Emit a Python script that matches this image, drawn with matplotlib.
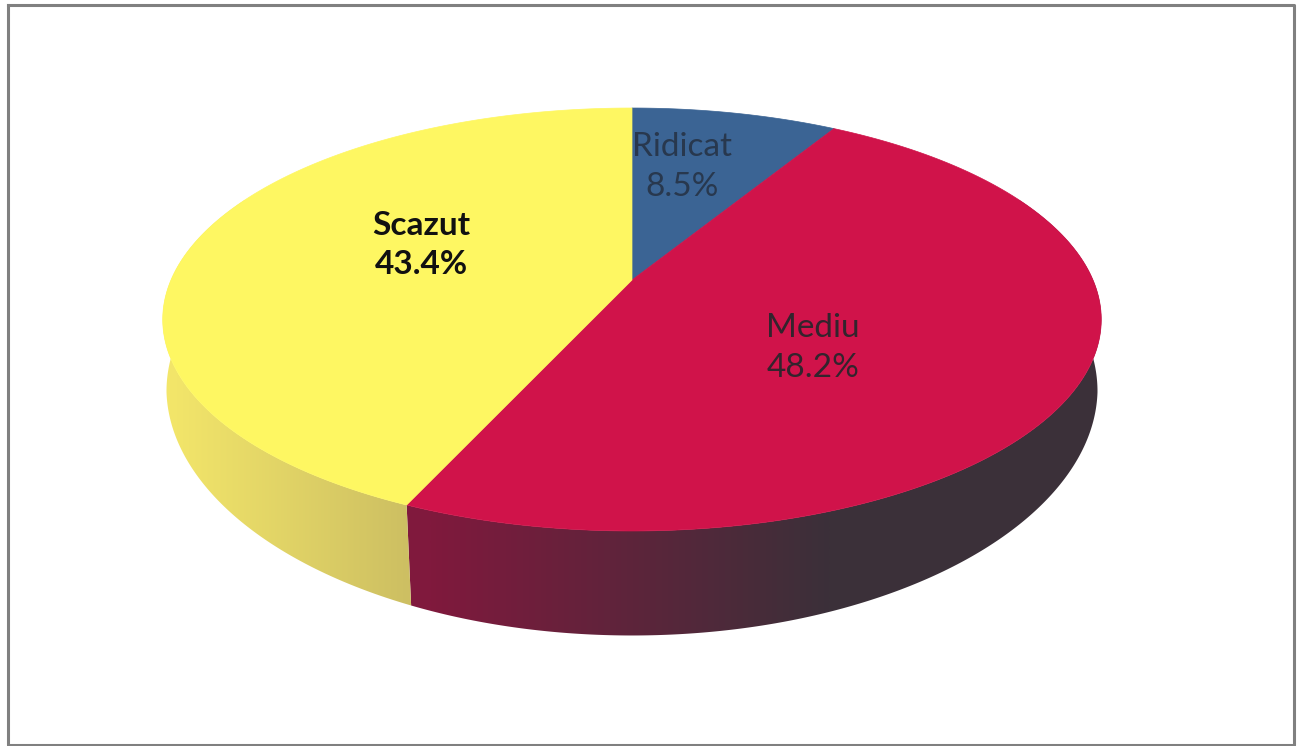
import numpy as np
import matplotlib
matplotlib.use('Agg')
from matplotlib import pyplot as plt
from matplotlib.colors import LinearSegmentedColormap
from matplotlib.patches import Polygon

# Chart data
categories = ['Ridicat', 'Mediu', 'Scazut']
values = [8.5, 48.2, 43.4]

# Look of each slice
top_colors = ['#3b6494', '#d0134a', '#fef762']
label_colors = ['#28384e', '#33242d', '#111111']
label_weights = ['normal', 'normal', 'bold']
label_xy = [(682, 167), (813, 348), (421, 245)]

plt.rcParams['font.family'] = ['Lato', 'DejaVu Sans']

fig = plt.figure(figsize=(12.97, 7.46), dpi=100)
ax = fig.add_axes([0, 0, 1, 1])

# Gray frame of the chart area
ax.plot([7.5, 1294, 1294, 7.5, 7.5], [5, 5, 745, 745, 5], color='#808080', lw=2.2)


# Perspective view of the pie disc; angle in degrees, clockwise from 12 o'clock
def top_edge(angle):
    t = np.radians(angle)
    u, v = np.sin(t), np.cos(t)
    d = 0.1868 * v + 1
    return 632 + 461 * u / d, (280 - 151.8 * v) / d


def bottom_edge(angle):
    x, y = top_edge(angle)
    scale = 0.992 - 0.012 * np.clip((y - 320) / 185, 0, 1)
    return 632 + (x - 632) * scale, y + 72 + 0.154 * (y - 320)


edges = np.cumsum([0] + values) / sum(values) * 360

# Rim shading runs from left to right, clipped to the rim of each slice
rim_cmaps = {
    1: (LinearSegmentedColormap.from_list('red_rim', ['#80193d', '#3b3039']), 430, 830),
    2: (LinearSegmentedColormap.from_list('yel_rim', ['#f3e66a', '#cdbf62']), 170, 410),
}
ramp = np.linspace(0, 1, 256).reshape(1, -1)

for i, (cmap, x0, x1) in rim_cmaps.items():
    angles = np.linspace(max(edges[i], 60), min(edges[i + 1], 300), 300)
    tx, ty = top_edge(angles)
    bx, by = bottom_edge(angles)
    outline = Polygon(np.c_[np.r_[tx, bx[::-1]], np.r_[ty, by[::-1]]],
                      transform=ax.transData, fc='none', ec='none')
    ax.add_patch(outline)
    # solid ends beyond the ramp so the clip never meets an empty area
    ax.imshow(ramp, cmap=cmap, aspect='auto', extent=(x0, x1, 700, 200),
              clip_path=outline, zorder=2)
    left, right = (x0 - 400, x0), (x1, x1 + 400)
    for span, f in ((left, 0.0), (right, 1.0)):
        ax.fill_between(span, 200, 700, color=cmap(f), lw=0, clip_path=outline, zorder=2)

for i in range(len(values)):
    angles = np.linspace(edges[i], edges[i + 1], 200)
    x, y = top_edge(angles)
    ax.fill(np.r_[632, x], np.r_[280, y], color=top_colors[i], lw=0.5, zorder=3)

for name, val, xy, col, w in zip(categories, values, label_xy, label_colors, label_weights):
    ax.text(xy[0], xy[1], '%s\n%.1f%%' % (name, val), ha='center', va='center',
            fontsize=24, color=col, fontweight=w, linespacing=1.4, zorder=4)

ax.set_xlim(0, 1297)
ax.set_ylim(746, 0)
ax.axis('off')

fig.savefig('out.png', dpi=100)
